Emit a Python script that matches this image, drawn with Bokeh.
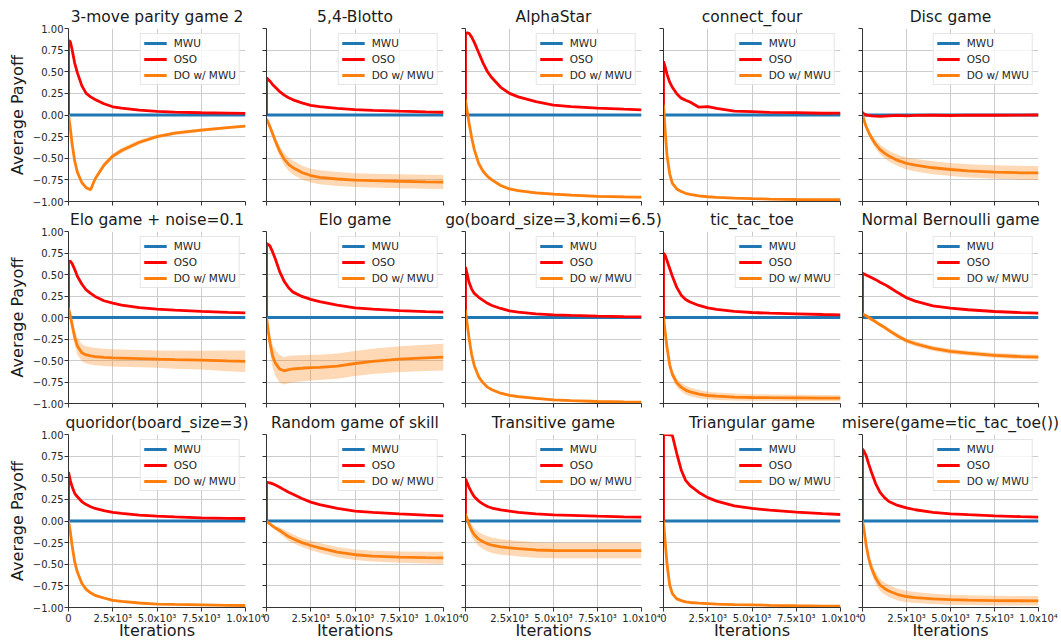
from bokeh.plotting import figure
from bokeh.layouts import column, row
from bokeh.models import FixedTicker, Range1d
from bokeh.embed import file_html
from bokeh.resources import INLINE

# ---------------- data ----------------
X = [0, 1, 100, 200, 350, 500, 750, 1000, 1250, 1500, 2000, 2500, 3000, 4000, 5000, 6000, 7500, 9000, 10000]
MWU_X = [0, 10000]
MWU_Y = [0.0, 0.0]

TITLES = ["3-move parity game 2", "5,4-Blotto", "AlphaStar", "connect_four", "Disc game",
          "Elo game + noise=0.1", "Elo game", "go(board_size=3,komi=6.5)", "tic_tac_toe", "Normal Bernoulli game",
          "quoridor(board_size=3)", "Random game of skill", "Transitive game", "Triangular game", "misere(game=tic_tac_toe())"]

OSO_PARITY = [0, 0.86, 0.85, 0.76, 0.60, 0.49, 0.34, 0.25, 0.21, 0.18, 0.13, 0.095, 0.08, 0.057, 0.042, 0.034, 0.026, 0.021, 0.018]
DO_PARITY = [0, 0, -0.15, -0.33, -0.53, -0.66, -0.78, -0.84, -0.865, -0.74, -0.58, -0.475, -0.41, -0.315, -0.25, -0.21, -0.175, -0.145, -0.128]
SD_PARITY = [0, 0, 0.01, 0.015, 0.02, 0.02, 0.02, 0.02, 0.02, 0.025, 0.03, 0.03, 0.028, 0.025, 0.02, 0.02, 0.018, 0.015, 0.015]

OSO_BLOTTO = [0, 0.43, 0.41, 0.39, 0.35, 0.32, 0.27, 0.23, 0.20, 0.175, 0.14, 0.112, 0.097, 0.077, 0.062, 0.053, 0.044, 0.036, 0.032]
DO_BLOTTO = [-0.04, -0.045, -0.09, -0.14, -0.22, -0.30, -0.42, -0.51, -0.57, -0.61, -0.665, -0.70, -0.72, -0.74, -0.752, -0.758, -0.766, -0.772, -0.775]
SD_BLOTTO = [0.005, 0.01, 0.02, 0.03, 0.04, 0.05, 0.06, 0.07, 0.075, 0.08, 0.08, 0.08, 0.08, 0.08, 0.08, 0.08, 0.08, 0.08, 0.08]

OSO_ALPHASTAR = [0, 0.94, 0.95, 0.945, 0.90, 0.84, 0.72, 0.60, 0.50, 0.43, 0.32, 0.25, 0.21, 0.155, 0.115, 0.098, 0.08, 0.067, 0.06]
DO_ALPHASTAR = [0.17, 0.17, 0.04, -0.09, -0.26, -0.40, -0.56, -0.65, -0.71, -0.75, -0.815, -0.855, -0.875, -0.90, -0.915, -0.926, -0.94, -0.947, -0.95]
SD_ALPHASTAR = [0.005, 0.005, 0.015, 0.015, 0.015, 0.015, 0.015, 0.015, 0.015, 0.015, 0.015, 0.015, 0.015, 0.015, 0.015, 0.015, 0.015, 0.015, 0.015]

OSO_CONNECT4 = [0, 0.62, 0.55, 0.47, 0.38, 0.32, 0.245, 0.195, 0.17, 0.15, 0.09, 0.096, 0.077, 0.045, 0.04, 0.03, 0.027, 0.02, 0.022]
DO_CONNECT4 = [0.115, 0.115, -0.20, -0.47, -0.68, -0.79, -0.855, -0.885, -0.905, -0.918, -0.935, -0.945, -0.952, -0.961, -0.967, -0.972, -0.977, -0.98, -0.98]
SD_CONNECT4 = [0.005, 0.005, 0.01, 0.012, 0.012, 0.012, 0.01, 0.01, 0.01, 0.01, 0.01, 0.01, 0.01, 0.01, 0.01, 0.01, 0.01, 0.01, 0.01]

OSO_DISC = [0.03, 0.03, 0.01, 0.0, -0.005, -0.01, -0.012, -0.015, -0.014, -0.01, -0.004, -0.01, -0.005, -0.003, -0.006, -0.002, -0.003, -0.002, 0.0]
DO_DISC = [0, 0, -0.07, -0.13, -0.20, -0.26, -0.34, -0.40, -0.44, -0.475, -0.525, -0.56, -0.58, -0.61, -0.63, -0.645, -0.66, -0.668, -0.67]
SD_DISC = [0, 0.005, 0.02, 0.03, 0.035, 0.04, 0.05, 0.055, 0.06, 0.062, 0.066, 0.07, 0.072, 0.074, 0.075, 0.077, 0.078, 0.08, 0.08]

OSO_ELONOISE = [0, 0.65, 0.655, 0.63, 0.56, 0.48, 0.39, 0.32, 0.28, 0.245, 0.195, 0.167, 0.145, 0.116, 0.097, 0.085, 0.071, 0.06, 0.054]
DO_ELONOISE = [0.11, 0.11, 0.02, -0.08, -0.23, -0.33, -0.41, -0.435, -0.447, -0.455, -0.463, -0.47, -0.473, -0.479, -0.485, -0.49, -0.496, -0.505, -0.51]
SD_ELONOISE = [0.02, 0.02, 0.05, 0.07, 0.09, 0.10, 0.10, 0.10, 0.10, 0.10, 0.10, 0.10, 0.10, 0.10, 0.10, 0.105, 0.11, 0.12, 0.125]

OSO_ELO = [0, 0.86, 0.85, 0.83, 0.76, 0.68, 0.53, 0.42, 0.345, 0.295, 0.245, 0.21, 0.185, 0.145, 0.113, 0.097, 0.081, 0.069, 0.062]
DO_ELO = [0, 0, -0.16, -0.30, -0.45, -0.53, -0.60, -0.62, -0.607, -0.597, -0.59, -0.582, -0.58, -0.565, -0.535, -0.51, -0.485, -0.47, -0.46]
SD_ELO = [0, 0, 0.06, 0.10, 0.13, 0.15, 0.16, 0.16, 0.158, 0.155, 0.152, 0.15, 0.148, 0.146, 0.145, 0.147, 0.15, 0.153, 0.155]

OSO_GO = [0, 0.585, 0.50, 0.41, 0.33, 0.28, 0.235, 0.20, 0.165, 0.14, 0.105, 0.077, 0.062, 0.043, 0.031, 0.025, 0.017, 0.011, 0.008]
DO_GO = [0.08, 0.08, -0.08, -0.24, -0.43, -0.56, -0.69, -0.76, -0.81, -0.84, -0.88, -0.905, -0.92, -0.94, -0.957, -0.966, -0.977, -0.982, -0.984]
SD_GO = [0.005, 0.005, 0.015, 0.015, 0.015, 0.015, 0.015, 0.015, 0.015, 0.015, 0.015, 0.015, 0.015, 0.015, 0.012, 0.01, 0.01, 0.01, 0.01]

OSO_TTT = [0, 0.75, 0.72, 0.66, 0.57, 0.48, 0.35, 0.26, 0.21, 0.18, 0.14, 0.112, 0.095, 0.072, 0.058, 0.05, 0.043, 0.035, 0.031]
DO_TTT = [0, 0, -0.18, -0.35, -0.55, -0.66, -0.76, -0.81, -0.845, -0.865, -0.89, -0.907, -0.915, -0.925, -0.93, -0.932, -0.934, -0.937, -0.938]
SD_TTT = [0, 0, 0.03, 0.04, 0.045, 0.05, 0.05, 0.05, 0.05, 0.05, 0.048, 0.045, 0.043, 0.04, 0.038, 0.037, 0.036, 0.035, 0.035]

OSO_BERNOULLI = [0, 0.515, 0.505, 0.495, 0.48, 0.465, 0.44, 0.41, 0.385, 0.355, 0.29, 0.23, 0.19, 0.135, 0.108, 0.09, 0.07, 0.057, 0.05]
DO_BERNOULLI = [0.045, 0.045, 0.03, 0.02, 0.0, -0.02, -0.05, -0.085, -0.115, -0.15, -0.215, -0.27, -0.305, -0.36, -0.395, -0.415, -0.44, -0.455, -0.46]
SD_BERNOULLI = [0.01, 0.01, 0.015, 0.018, 0.02, 0.02, 0.022, 0.024, 0.025, 0.025, 0.026, 0.027, 0.028, 0.028, 0.028, 0.028, 0.028, 0.028, 0.028]

OSO_QUORIDOR = [0, 0.565, 0.47, 0.40, 0.32, 0.28, 0.225, 0.19, 0.165, 0.145, 0.12, 0.10, 0.088, 0.067, 0.056, 0.047, 0.037, 0.031, 0.029]
DO_QUORIDOR = [0, 0, -0.12, -0.28, -0.47, -0.59, -0.72, -0.79, -0.83, -0.86, -0.89, -0.918, -0.93, -0.948, -0.96, -0.965, -0.97, -0.975, -0.977]
SD_QUORIDOR = [0, 0, 0.015, 0.02, 0.02, 0.02, 0.02, 0.018, 0.015, 0.015, 0.015, 0.012, 0.012, 0.01, 0.01, 0.01, 0.01, 0.01, 0.01]

OSO_SKILL = [0, 0.45, 0.445, 0.44, 0.43, 0.415, 0.39, 0.36, 0.333, 0.31, 0.26, 0.218, 0.19, 0.145, 0.114, 0.1, 0.083, 0.068, 0.06]
DO_SKILL = [0, 0, -0.02, -0.035, -0.06, -0.08, -0.11, -0.145, -0.18, -0.205, -0.25, -0.283, -0.31, -0.36, -0.39, -0.405, -0.418, -0.424, -0.426]
SD_SKILL = [0.005, 0.005, 0.01, 0.015, 0.02, 0.025, 0.035, 0.045, 0.05, 0.05, 0.052, 0.055, 0.056, 0.058, 0.06, 0.062, 0.065, 0.068, 0.07]

OSO_TRANSITIVE = [0, 0.487, 0.44, 0.39, 0.33, 0.28, 0.23, 0.195, 0.168, 0.15, 0.128, 0.114, 0.1, 0.082, 0.071, 0.065, 0.056, 0.048, 0.044]
DO_TRANSITIVE = [0.08, 0.08, 0.02, -0.04, -0.11, -0.16, -0.21, -0.24, -0.264, -0.28, -0.30, -0.31, -0.32, -0.335, -0.341, -0.342, -0.342, -0.342, -0.342]
SD_TRANSITIVE = [0.02, 0.02, 0.04, 0.05, 0.07, 0.075, 0.08, 0.085, 0.088, 0.09, 0.09, 0.09, 0.09, 0.09, 0.09, 0.09, 0.09, 0.09, 0.09]

OSO_TRIANGULAR = [0, 0.998, 0.998, 0.998, 0.995, 0.99, 0.78, 0.59, 0.47, 0.41, 0.33, 0.27, 0.23, 0.175, 0.145, 0.125, 0.102, 0.085, 0.075]
DO_TRIANGULAR = [0, 0, -0.25, -0.50, -0.74, -0.84, -0.90, -0.92, -0.935, -0.942, -0.95, -0.955, -0.96, -0.967, -0.97, -0.975, -0.98, -0.983, -0.985]
SD_TRIANGULAR = [0, 0, 0.03, 0.03, 0.03, 0.025, 0.02, 0.015, 0.012, 0.01, 0.01, 0.01, 0.01, 0.01, 0.01, 0.01, 0.01, 0.01, 0.01]

OSO_MISERE = [0, 0.834, 0.80, 0.76, 0.66, 0.57, 0.43, 0.33, 0.27, 0.225, 0.18, 0.152, 0.13, 0.1, 0.083, 0.073, 0.06, 0.05, 0.044]
DO_MISERE = [0, 0, -0.12, -0.27, -0.43, -0.54, -0.66, -0.74, -0.78, -0.81, -0.85, -0.873, -0.885, -0.90, -0.91, -0.915, -0.92, -0.922, -0.923]
SD_MISERE = [0, 0, 0.03, 0.04, 0.05, 0.06, 0.07, 0.07, 0.07, 0.07, 0.068, 0.065, 0.063, 0.06, 0.058, 0.057, 0.056, 0.055, 0.055]

OSO = [OSO_PARITY, OSO_BLOTTO, OSO_ALPHASTAR, OSO_CONNECT4, OSO_DISC,
       OSO_ELONOISE, OSO_ELO, OSO_GO, OSO_TTT, OSO_BERNOULLI,
       OSO_QUORIDOR, OSO_SKILL, OSO_TRANSITIVE, OSO_TRIANGULAR, OSO_MISERE]
DO = [DO_PARITY, DO_BLOTTO, DO_ALPHASTAR, DO_CONNECT4, DO_DISC,
      DO_ELONOISE, DO_ELO, DO_GO, DO_TTT, DO_BERNOULLI,
      DO_QUORIDOR, DO_SKILL, DO_TRANSITIVE, DO_TRIANGULAR, DO_MISERE]
SD = [SD_PARITY, SD_BLOTTO, SD_ALPHASTAR, SD_CONNECT4, SD_DISC,
      SD_ELONOISE, SD_ELO, SD_GO, SD_TTT, SD_BERNOULLI,
      SD_QUORIDOR, SD_SKILL, SD_TRANSITIVE, SD_TRIANGULAR, SD_MISERE]

Y_TICKS = [-1.0, -0.75, -0.5, -0.25, 0.0, 0.25, 0.5, 0.75, 1.0]
Y_LABELS = ["\u22121.00", "\u22120.75", "\u22120.50", "\u22120.25", "0.00", "0.25", "0.50", "0.75", "1.00"]
X_TICKS = [0, 2500, 5000, 7500, 10000]
X_LABELS = ["0", "2.5x10\u00b3", "5.0x10\u00b3", "7.5x10\u00b3", "1.0x10\u2074"]

# ---------------- layout (page pixel geometry) ----------------
FX = [68, 266, 465, 663, 862]
FW = [177, 177, 176, 177, 176]
FY = [28, 231, 434]
FH = [173, 172, 173]
BL = [68, 30, 30, 30, 30]
BR = [30, 30, 30, 30, 22]
BT = [28, 28, 28]
BB = [12, 12, 33]

FONT = "DejaVu Sans"
BLUE, RED, ORANGE = "#1f77b4", "#ff0000", "#ff7f0e"
TXT = "#262626"
SPINE = "#333333"
GRID = "#cccccc"
LW = 2.8


def style_axis(ax, grid, ticks, labels):
    ax.axis_line_color = SPINE
    ax.axis_line_width = 1
    ax.major_tick_in = 0
    ax.major_tick_out = 4
    ax.minor_tick_in = 0
    ax.minor_tick_out = 4
    ax.major_label_text_font = FONT
    ax.major_label_text_font_size = "10px"
    ax.major_label_text_color = TXT
    ax.major_label_standoff = 1
    ax.axis_label_text_font = FONT
    ax.axis_label_text_font_size = "16px"
    ax.axis_label_text_font_style = "normal"
    ax.axis_label_text_color = "#1a1a1a"
    if labels is not None:
        ax.ticker = FixedTicker(ticks=ticks)
        ax.major_label_overrides = dict(zip(ticks, labels))
        ax.major_tick_line_color = SPINE
        ax.minor_tick_line_color = None
        grid.grid_line_color = GRID
        grid.minor_grid_line_color = None
    else:
        # unlabeled axis: tick marks only (as minor ticks, which carry no labels)
        ax.ticker = FixedTicker(ticks=[], minor_ticks=ticks)
        ax.major_tick_line_color = None
        ax.minor_tick_line_color = SPINE
        grid.grid_line_color = None
        grid.minor_grid_line_color = GRID
    grid.grid_line_width = 1
    grid.minor_grid_line_width = 1


def make_panel(i):
    r, c = divmod(i, 5)
    ml = 0 if c == 0 else (FX[c] - BL[c]) - (FX[c - 1] + FW[c - 1] + BR[c - 1])
    p = figure(frame_width=FW[c], frame_height=FH[r],
               x_range=Range1d(0, 10000), y_range=Range1d(-1, 1),
               output_backend="svg", toolbar_location=None, tools="",
               min_border_left=BL[c], min_border_right=BR[c],
               min_border_top=BT[r], min_border_bottom=BB[r],
               margin=(0, 0, 0, ml), title=TITLES[i])
    p.border_fill_color = None
    p.background_fill_color = "white"
    p.outline_line_color = None

    p.title.align = "center"
    p.title.text_font = FONT
    p.title.text_font_size = "15.5px"
    p.title.text_font_style = "normal"
    p.title.text_color = "#1a1a1a"
    p.title.standoff = 6

    lo = [m - s for m, s in zip(DO[i], SD[i])]
    hi = [m + s for m, s in zip(DO[i], SD[i])]
    p.line(MWU_X, MWU_Y, line_color=BLUE, line_width=LW, legend_label="MWU")
    p.line(X, OSO[i], line_color=RED, line_width=LW, legend_label="OSO")
    p.varea(x=X, y1=lo, y2=hi, fill_color=ORANGE, fill_alpha=0.3)
    p.line(X, DO[i], line_color=ORANGE, line_width=LW, legend_label="DO w/ MWU")

    style_axis(p.yaxis[0], p.ygrid[0], Y_TICKS, Y_LABELS if c == 0 else None)
    style_axis(p.xaxis[0], p.xgrid[0], X_TICKS, X_LABELS if r == 2 else None)
    if c == 0:
        p.yaxis.axis_label = "Average Payoff"
        p.yaxis.axis_label_standoff = 3
    if r == 2:
        p.xaxis.axis_label = "Iterations"
        p.xaxis.axis_label_standoff = -6

    lg = p.legend[0]
    lg.location = "top_right"
    lg.margin = 5
    lg.padding = 3
    lg.spacing = 4
    lg.glyph_width = 23
    lg.glyph_height = 12
    lg.label_height = 12
    lg.label_standoff = 7
    lg.label_text_font = FONT
    lg.label_text_font_size = "10.5px"
    lg.label_text_color = TXT
    lg.border_line_color = GRID
    lg.border_line_width = 1
    lg.background_fill_color = "white"
    lg.background_fill_alpha = 0.8
    return p


rows = []
for r in range(3):
    mt = 0 if r == 0 else (FY[r] - BT[r]) - (FY[r - 1] + FH[r - 1] + BB[r - 1])
    rows.append(row(*[make_panel(r * 5 + c) for c in range(5)], margin=(mt, 0, 0, 0)))
layout = column(*rows)

open("out.html", "w").write(file_html(layout, INLINE))
